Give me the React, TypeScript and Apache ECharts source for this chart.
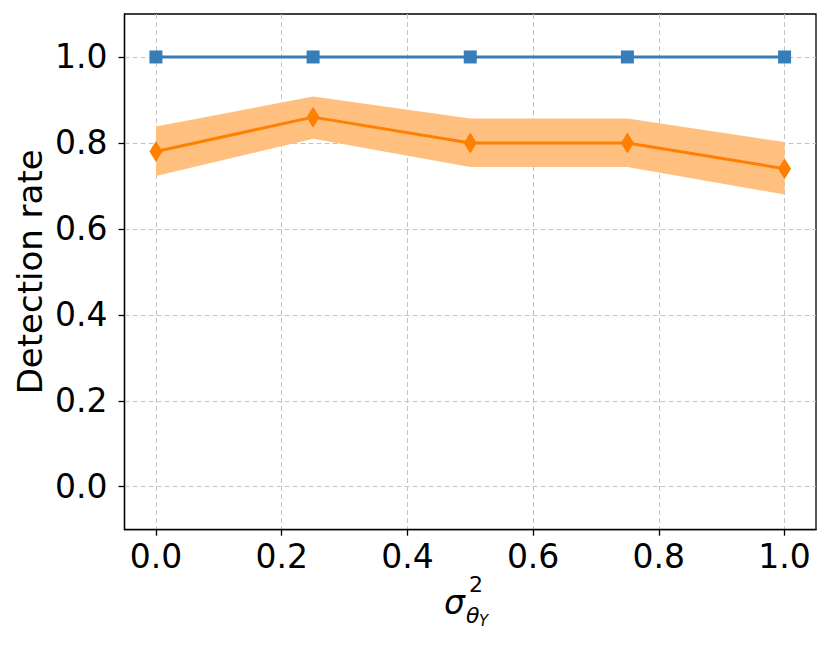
import React, { useEffect, useRef } from "react";
import * as echarts from "echarts";

const xValues = [0, 0.25, 0.5, 0.75, 1.0];
const blueRate = [1.0, 1.0, 1.0, 1.0, 1.0];
const orangeRate = [0.78, 0.86, 0.8, 0.8, 0.74];
const orangeLow = [0.723, 0.81, 0.744, 0.744, 0.68];
const orangeHigh = [0.838, 0.908, 0.857, 0.857, 0.802];
const xTicks = [0, 0.2, 0.4, 0.6, 0.8, 1.0];
const yTicks = [0, 0.2, 0.4, 0.6, 0.8, 1.0];

const FONT = "DejaVu Sans";

export default function App() {
  const ref = useRef<HTMLDivElement>(null);
  useEffect(() => {
    if (!ref.current) return;
    const chart = echarts.init(ref.current, undefined, { renderer: "svg" });
    const bandData = xValues.map((x, i) => [x, orangeLow[i], orangeHigh[i]]);
    const gridLine = { show: true, lineStyle: { color: "#c4c4c4", type: [5, 3], width: 1 } };
    chart.setOption({
      animation: false,
      backgroundColor: "#ffffff",
      textStyle: { fontFamily: FONT },
      grid: {
        left: 124.5,
        right: 14,
        top: 14,
        bottom: 115.3,
        show: true,
        borderColor: "#000",
        borderWidth: 1.3,
        backgroundColor: "transparent",
      },
      xAxis: {
        type: "value",
        min: -0.05,
        max: 1.05,
        axisLine: { show: true, onZero: false, lineStyle: { color: "#000", width: 1.3 } },
        axisTick: { show: true, length: 6, customValues: xTicks, lineStyle: { color: "#000", width: 1.3 } },
        axisLabel: {
          customValues: xTicks,
          formatter: (v: number) => v.toFixed(1),
          fontSize: 33,
          color: "#000",
          fontFamily: FONT,
          margin: 10,
        },
        splitLine: gridLine,
      },
      yAxis: {
        type: "value",
        min: -0.1,
        max: 1.1,
        name: "Detection rate",
        nameLocation: "middle",
        nameGap: 78,
        nameMoveOverlap: false,
        nameTextStyle: { fontSize: 34, color: "#000", fontFamily: FONT },
        axisLine: { show: true, onZero: false, lineStyle: { color: "#000", width: 1.3 } },
        axisTick: { show: true, length: 6, customValues: yTicks, lineStyle: { color: "#000", width: 1.3 } },
        axisLabel: {
          customValues: yTicks,
          formatter: (v: number) => v.toFixed(1),
          fontSize: 33,
          color: "#000",
          fontFamily: FONT,
          margin: 17,
        },
        splitLine: gridLine,
      },
      graphic: [
        { type: "text", left: 444, top: 586, style: { text: "σ", fontSize: 33, fontStyle: "italic", fontFamily: FONT, fill: "#000" } },
        { type: "text", left: 469, top: 573, style: { text: "2", fontSize: 22, fontFamily: FONT, fill: "#000" } },
        { type: "text", left: 466, top: 604, style: { text: "θ", fontSize: 22, fontStyle: "italic", fontFamily: FONT, fill: "#000" } },
        { type: "text", left: 479, top: 613, style: { text: "Y", fontSize: 15, fontStyle: "italic", fontFamily: FONT, fill: "#000" } },
      ],
      series: [
        {
          type: "custom",
          name: "band",
          data: bandData,
          encode: { x: 0, y: [1, 2] },
          z: 1,
          renderItem: (params: any, api: any) => {
            if (params.dataIndex !== 0) return null;
            const upper = xValues.map((x, i) => api.coord([x, orangeHigh[i]]));
            const lower = xValues.map((x, i) => api.coord([x, orangeLow[i]])).reverse();
            return {
              type: "polygon",
              shape: { points: upper.concat(lower) },
              style: { fill: "#ffbf7f", stroke: "none" },
            };
          },
        },
        {
          type: "line",
          name: "orange",
          data: xValues.map((x, i) => [x, orangeRate[i]]),
          color: "#ff7f00",
          lineStyle: { width: 3, color: "#ff7f00" },
          symbol: "diamond",
          symbolSize: [13, 21],
          itemStyle: { color: "#ff7f00" },
          z: 3,
        },
        {
          type: "line",
          name: "blue",
          data: xValues.map((x, i) => [x, blueRate[i]]),
          color: "#377eb8",
          lineStyle: { width: 3, color: "#377eb8" },
          symbol: "rect",
          symbolSize: 13,
          itemStyle: { color: "#377eb8" },
          z: 4,
        },
      ],
    });
    return () => chart.dispose();
  }, []);
  return <div ref={ref} style={{ width: 830, height: 645, margin: -8 }} />;
}
